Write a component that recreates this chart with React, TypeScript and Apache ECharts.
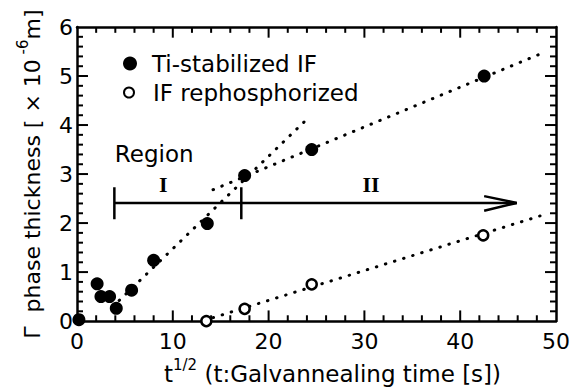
import React, { useEffect, useRef } from "react";
import * as echarts from "echarts";

const xTicks = [0, 10, 20, 30, 40, 50];
const yTicks = [0, 1, 2, 3, 4, 5, 6];
const X_MINOR_STEP = 2;
const Y_MINOR_STEP = 0.2;

const tiX = [0.2, 2.1, 2.5, 3.4, 4.1, 5.7, 8.0, 13.6, 17.5, 24.5, 42.5];
const tiY = [0.03, 0.76, 0.5, 0.5, 0.26, 0.63, 1.24, 1.99, 2.97, 3.5, 5.0];

const repX = [13.5, 17.5, 24.5, 42.4];
const repY = [0.0, 0.25, 0.75, 1.75];

const fitI = [[4.4, 0.42], [23.9, 4.1]];
const fitII = [[14.2, 2.68], [48.6, 5.47]];
const fitRep = [[14.2, 0.07], [48.9, 2.18]];

const regionArrow = [[3.9, 2.41], [45.9, 2.41]];
const arrowHead = [[42.5, 2.55], [45.9, 2.41], [42.5, 2.25]];
const barStart = [[3.9, 2.08], [3.9, 2.73]];
const barMid = [[17.15, 2.08], [17.15, 2.73]];

const regionLabels = [
  { x: 4.0, y: 3.40, text: "Region", serif: false },
  { x: 9.0, y: 2.78, text: "I", serif: true },
  { x: 30.7, y: 2.78, text: "II", serif: true },
];

const FONT = "DejaVu Sans";
const W = 573;
const H = 390;
const GRID = { left: 77, right: 16, top: 27, bottom: 60 };

export default function App() {
  const ref = useRef<HTMLDivElement>(null);
  useEffect(() => {
    if (!ref.current) return;
    const chart = echarts.init(ref.current, null, { renderer: "svg" });
    const xMin = xTicks[0];
    const xMax = xTicks[xTicks.length - 1];
    const yMin = yTicks[0];
    const yMax = yTicks[yTicks.length - 1];
    const pxPerX = (W - GRID.left - GRID.right) / (xMax - xMin);
    const pxPerY = (H - GRID.top - GRID.bottom) / (yMax - yMin);
    const MAJOR = 11;
    const MINOR = 6;

    const tickStyle = { color: "#000", width: 2 };
    const tickSeries: any[] = [];
    const addTick = (a: number[], b: number[]) =>
      tickSeries.push({
        type: "line",
        data: [a, b],
        symbol: "none",
        lineStyle: tickStyle,
        silent: true,
        clip: false,
        z: 5,
      });
    const nx = Math.round((xMax - xMin) / X_MINOR_STEP);
    for (let i = 1; i < nx; i++) {
      const v = xMin + i * X_MINOR_STEP;
      const len = (xTicks.includes(v) ? MAJOR : MINOR) / pxPerY;
      addTick([v, yMin], [v, yMin + len]);
      addTick([v, yMax], [v, yMax - len]);
    }
    const ny = Math.round((yMax - yMin) / Y_MINOR_STEP);
    for (let i = 1; i < ny; i++) {
      const v = +(yMin + i * Y_MINOR_STEP).toFixed(3);
      const len = (yTicks.includes(v) ? MAJOR : MINOR) / pxPerX;
      addTick([xMin, v], [xMin + len, v]);
      addTick([xMax, v], [xMax - len, v]);
    }

    const dotted = {
      color: "#000",
      width: 3,
      type: [0.5, 9] as number[],
      cap: "round" as const,
      opacity: 1,
    };
    const mkAxisLine = () => ({
      show: true,
      onZero: false,
      lineStyle: { color: "#000", width: 2.5 },
    });
    const lineSeries = (name: string, data: number[][], style: any) => ({
      type: "line",
      name,
      data,
      symbol: "none",
      lineStyle: style,
      silent: true,
      z: 1,
    });
    chart.setOption({
      animation: false,
      backgroundColor: "#fff",
      textStyle: { fontFamily: FONT, color: "#000" },
      grid: GRID,
      legend: [
        {
          data: ["Ti-stabilized IF"],
          orient: "vertical",
          left: 118,
          top: 47,
          itemWidth: 14,
          itemHeight: 14,
          textStyle: { fontFamily: FONT, fontSize: 23, color: "#000", padding: [0, 0, 0, 10] },
        },
        {
          data: ["IF rephosphorized"],
          orient: "vertical",
          left: 118,
          top: 76,
          itemWidth: 10,
          itemHeight: 10,
          textStyle: { fontFamily: FONT, fontSize: 23, color: "#000", padding: [0, 0, 0, 14] },
        },
      ],
      xAxis: [
        {
          type: "value",
          min: xMin,
          max: xMax,
          interval: 10,
          position: "bottom",
          axisLine: mkAxisLine(),
          axisTick: { show: false },
          splitLine: { show: false },
          axisLabel: { fontFamily: FONT, fontSize: 22, color: "#000", margin: 9 },
          name: "{a|t}{s|1/2}{a| (t:Galvannealing time [s])}",
          nameLocation: "middle",
          nameGap: 32,
          nameTextStyle: {
            padding: [0, 0, 0, 32],
            rich: {
              a: { fontFamily: FONT, fontSize: 23, color: "#000", lineHeight: 28, verticalAlign: "bottom" },
              s: { fontFamily: FONT, fontSize: 15, color: "#000", lineHeight: 28, verticalAlign: "top" },
            },
          },
        },
        {
          type: "value",
          min: xMin,
          max: xMax,
          interval: 10,
          position: "top",
          axisLine: mkAxisLine(),
          axisTick: { show: false },
          splitLine: { show: false },
          axisLabel: { show: false },
        },
      ],
      yAxis: [
        {
          type: "value",
          min: yMin,
          max: yMax,
          interval: 1,
          position: "left",
          axisLine: mkAxisLine(),
          axisTick: { show: false },
          splitLine: { show: false },
          axisLabel: { fontFamily: FONT, fontSize: 22, color: "#000", margin: 4 },
          name: "{a|Γ  phase thickness [ × 10}{s| -6}{a|m]}",
          nameLocation: "middle",
          nameRotate: 90,
          nameGap: 34,
          nameTextStyle: {
            rich: {
              a: { fontFamily: FONT, fontSize: 22, color: "#000", lineHeight: 28, verticalAlign: "bottom" },
              s: { fontFamily: FONT, fontSize: 15, color: "#000", lineHeight: 28, verticalAlign: "top" },
            },
          },
        },
        {
          type: "value",
          min: yMin,
          max: yMax,
          interval: 1,
          position: "right",
          axisLine: mkAxisLine(),
          axisTick: { show: false },
          splitLine: { show: false },
          axisLabel: { show: false },
        },
      ],
      series: [
        ...tickSeries,
        lineSeries("fitI", fitI, dotted),
        lineSeries("fitII", fitII, dotted),
        lineSeries("fitRep", fitRep, dotted),
        lineSeries("arrow", regionArrow, { color: "#000", width: 2.5 }),
        lineSeries("arrowHead", arrowHead, { color: "#000", width: 2.5 }),
        lineSeries("barStart", barStart, { color: "#000", width: 2.5 }),
        lineSeries("barMid", barMid, { color: "#000", width: 2.5 }),
        {
          type: "scatter",
          name: "Ti-stabilized IF",
          data: tiX.map((x, i) => [x, tiY[i]]),
          symbol: "circle",
          symbolSize: 13,
          itemStyle: { color: "#000", opacity: 1 },
          z: 3,
        },
        {
          type: "scatter",
          name: "IF rephosphorized",
          data: repX.map((x, i) => [x, repY[i]]),
          symbol: "circle",
          symbolSize: 10,
          itemStyle: { color: "#fff", borderColor: "#000", borderWidth: 2.5, opacity: 1 },
          z: 3,
        },
        {
          type: "scatter",
          name: "labels",
          data: regionLabels.map((l) => ({
            value: [l.x, l.y],
            label: {
              show: true,
              formatter: l.text,
              position: l.serif ? "inside" : "right",
              offset: l.serif ? [0, 0] : [-6, 0],
              fontFamily: l.serif ? "Liberation Serif" : FONT,
              fontWeight: l.serif ? "bold" : "normal",
              fontSize: l.serif ? 22 : 23,
              color: "#000",
              opacity: 1,
            },
          })),
          symbolSize: 1,
          itemStyle: { color: "#fff", opacity: 1 },
          silent: true,
          z: 4,
        },
      ],
    });
    return () => chart.dispose();
  }, []);
  return (
    <div
      ref={ref}
      style={{ position: "fixed", left: 0, top: 0, width: W, height: H, background: "#fff" }}
    />
  );
}
